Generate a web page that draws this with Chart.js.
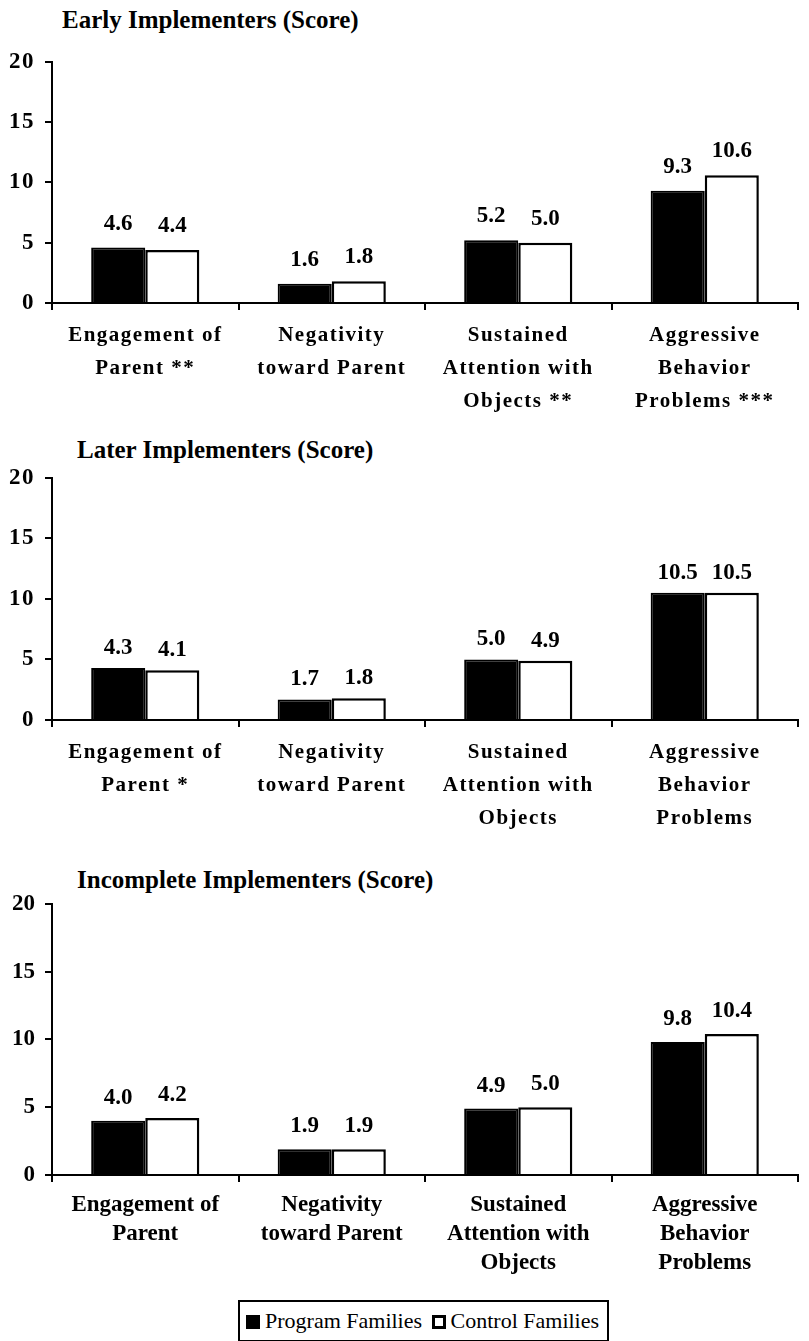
<!DOCTYPE html>
<html>
<head>
  <meta charset="UTF-8">
  <title>Implementers Scores</title>
  <script src="https://cdn.jsdelivr.net/npm/chart.js"></script>
  <style>
    body {
      margin: 0;
      background: #fff;
      font-family: 'Liberation Serif', 'Times New Roman', serif;
      width: 809px;
      height: 1341px;
      position: relative;
      overflow: hidden;
    }

    .title {
      position: absolute;
      font-size: 25px;
      line-height: 30px;
      font-weight: bold;
      color: #000;
      white-space: nowrap;
    }

    canvas {
      position: absolute;
      left: 0;
    }

    #legend {
      position: absolute;
      left: 238px;
      top: 1300px;
      height: 38px;
      border: 2px solid #000;
      padding: 0 8px 0 6px;
      font-size: 22px;
      line-height: 38px;
      color: #000;
      white-space: nowrap;
    }

    .swatch {
      display: inline-block;
      width: 14px;
      height: 14px;
      box-sizing: border-box;
      border: 3px solid #000;
      margin-right: 5px;
      vertical-align: -1px;
    }
  </style>
</head>
<body>
  <div class="title" style="left:62px; top:5px">Early Implementers (Score)</div>
  <canvas id="early" width="809" height="375" style="top:38px"></canvas>

  <div class="title" style="left:77px; top:435px">Later Implementers (Score)</div>
  <canvas id="later" width="809" height="376" style="top:454px"></canvas>

  <div class="title" style="left:77px; top:865px">Incomplete Implementers (Score)</div>
  <canvas id="incomplete" width="809" height="395" style="top:880px"></canvas>

  <div id="legend"></div>

  <script>
    const seriesNames = ['Program Families', 'Control Families'];
    const yTicks = [0, 5, 10, 15, 20];

    const earlyLabels = [
      ['Engagement of', 'Parent **'],
      ['Negativity', 'toward Parent'],
      ['Sustained', 'Attention with', 'Objects **'],
      ['Aggressive', 'Behavior', 'Problems ***']
    ];
    const earlyProgram = [4.6, 1.6, 5.2, 9.3];
    const earlyControl = [4.4, 1.8, 5.0, 10.6];

    const laterLabels = [
      ['Engagement of', 'Parent *'],
      ['Negativity', 'toward Parent'],
      ['Sustained', 'Attention with', 'Objects'],
      ['Aggressive', 'Behavior', 'Problems']
    ];
    const laterProgram = [4.3, 1.7, 5.0, 10.5];
    const laterControl = [4.1, 1.8, 4.9, 10.5];

    const incompleteLabels = [
      ['Engagement of', 'Parent'],
      ['Negativity', 'toward Parent'],
      ['Sustained', 'Attention with', 'Objects'],
      ['Aggressive', 'Behavior', 'Problems']
    ];
    const incompleteProgram = [4.0, 1.9, 4.9, 9.8];
    const incompleteControl = [4.2, 1.9, 5.0, 10.4];

    // letter spacing for the scanned, spaced-out axis text
    const spacingPlugin = {
      id: 'spacing',
      beforeLayout(chart, args, opts) { chart.ctx.letterSpacing = opts.value; },
      beforeDraw(chart, args, opts) { chart.ctx.letterSpacing = opts.value; }
    };

    // numbers printed above each bar
    const valueLabels = {
      id: 'valueLabels',
      afterDatasetsDraw(chart, args, opts) {
        const ctx = chart.ctx;
        ctx.save();
        ctx.letterSpacing = opts.spacing;
        ctx.font = opts.font;
        ctx.fillStyle = '#000';
        ctx.textAlign = 'center';
        ctx.textBaseline = 'alphabetic';
        chart.data.datasets.forEach((ds, i) => {
          chart.getDatasetMeta(i).data.forEach((bar, j) => {
            ctx.fillText(ds.data[j].toFixed(1), bar.x, bar.y - opts.gap);
          });
        });
        ctx.restore();
      }
    };

    function makeChart(id, labels, program, control, cfg) {
      new Chart(document.getElementById(id), {
        type: 'bar',
        data: {
          labels: labels,
          datasets: [
            {
              label: seriesNames[0],
              data: program,
              backgroundColor: '#000',
              borderColor: '#000',
              borderWidth: 2
            },
            {
              label: seriesNames[1],
              data: control,
              backgroundColor: '#fff',
              borderColor: '#000',
              borderWidth: 2.5
            }
          ]
        },
        options: {
          responsive: false,
          animation: false,
          categoryPercentage: 0.58,
          barPercentage: 1.0,
          layout: { padding: { top: 16, right: 11, left: 0, bottom: 0 } },
          plugins: {
            legend: { display: false },
            tooltip: { enabled: false },
            spacing: { value: cfg.spacing },
            valueLabels: { font: 'bold 23px "Liberation Serif"', gap: cfg.gap, spacing: '0px' }
          },
          scales: {
            x: {
              border: { color: '#000', width: 2 },
              grid: { drawOnChartArea: false, offset: true, color: '#000', lineWidth: 2, tickLength: 7 },
              ticks: {
                color: '#000',
                padding: 9,
                maxRotation: 0,
                minRotation: 0,
                autoSkip: false,
                font: { family: 'Liberation Serif', weight: 'bold', size: cfg.labelSize, lineHeight: cfg.lineHeight }
              },
              afterFit(scale) { scale.height = cfg.xHeight; }
            },
            y: {
              min: yTicks[0],
              max: yTicks[yTicks.length - 1],
              border: { color: '#000', width: 2 },
              grid: { drawOnChartArea: false, color: '#000', lineWidth: 2, tickLength: 7 },
              afterBuildTicks(scale) { scale.ticks = yTicks.map(v => ({ value: v })); },
              ticks: {
                color: '#000',
                padding: 10,
                font: { family: 'Liberation Serif', weight: 'bold', size: 23 }
              },
              afterFit(scale) { scale.width = 52; }
            }
          }
        },
        plugins: [spacingPlugin, valueLabels]
      });
    }

    makeChart('early', earlyLabels, earlyProgram, earlyControl,
      { spacing: '1.5px', labelSize: 21, lineHeight: '33px', xHeight: 110, gap: 18 });
    makeChart('later', laterLabels, laterProgram, laterControl,
      { spacing: '1.5px', labelSize: 21, lineHeight: '33px', xHeight: 110, gap: 14 });
    makeChart('incomplete', incompleteLabels, incompleteProgram, incompleteControl,
      { spacing: '0px', labelSize: 23, lineHeight: '29px', xHeight: 100, gap: 17 });

    // shared legend below the three charts
    const legend = document.getElementById('legend');
    legend.innerHTML =
      `<span class="swatch" style="background:#000"></span>${seriesNames[0]} ` +
      `<span class="swatch" style="background:#fff; margin-left:4px"></span>${seriesNames[1]}`;
  </script>
</body>
</html>
